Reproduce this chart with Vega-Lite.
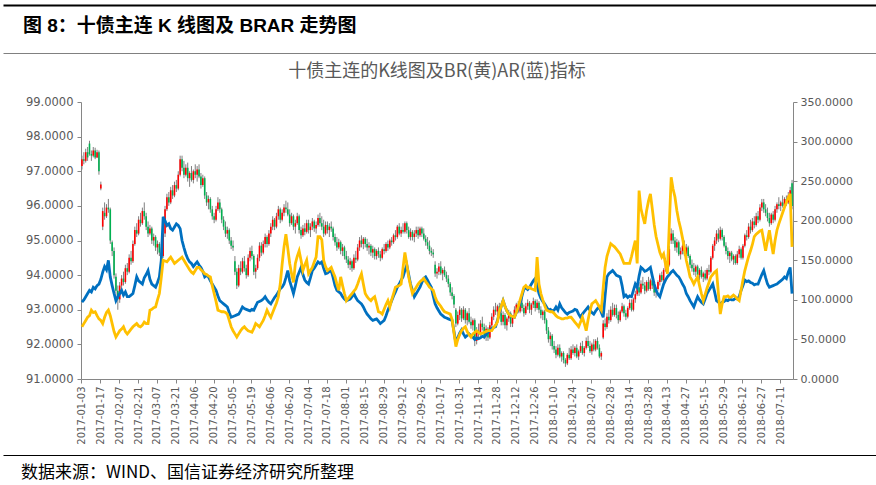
{
"$schema":"https://vega.github.io/schema/vega-lite/v6.json",
"padding":{"left":0,"top":2,"right":0,"bottom":0},
"background":"white",
"columns":1,
"align":"none",
"spacing":7,
"config":{"view":{"stroke":null},"font":"DejaVu Sans"},
"concat":[
{"width":798,"height":1,"data":{"values":[{"v":0}]},"mark":{"type":"point","opacity":0},
 "encoding":{"x":{"field":"v","type":"quantitative","scale":{"domain":[0,1],"range":[-78,798]},"axis":{"orient":"top","labels":false,"ticks":false,"grid":false,"title":null,"domainColor":"#000000","domainWidth":2}}}},
{"width":798,"height":1,"data":{"values":[{"v":0}]},"mark":{"type":"point","opacity":0},
 "encoding":{"x":{"field":"v","type":"quantitative","scale":{"domain":[0,1],"range":[-78,798]},"axis":{"orient":"bottom","labels":false,"ticks":false,"grid":false,"title":null,"domainColor":"#808080","domainWidth":1}}},
 "title":{"text":"图 8：十债主连 K 线图及 BRAR 走势图","anchor":"start","frame":"group","dx":-58,"fontSize":19,"fontWeight":"bold","color":"#000000","font":"Liberation Sans, Noto Sans CJK SC","offset":14}},
{"width":712,"height":277,
 "title":{"text":"十债主连的K线图及BR(黄)AR(蓝)指标","fontSize":18,"fontWeight":"normal","color":"#595959","font":"Noto Sans CJK SC","anchor":"middle","frame":"group","offset":15},
 "data":{"values":[
{"d":"2017-01-03","o":97.15,"h":97.45,"l":97.05,"c":97.35,"ar":97,"br":66},
{"d":"2017-01-04","o":97.35,"h":97.55,"l":97.2,"c":97.3,"ar":100,"br":70},
{"d":"2017-01-05","o":97.3,"h":97.65,"l":97.25,"c":97.55,"ar":104,"br":74},
{"d":"2017-01-06","o":97.55,"h":97.7,"l":97.3,"c":97.4,"ar":108,"br":78},
{"d":"2017-01-09","o":97.8,"h":97.88,"l":97.45,"c":97.5,"ar":112,"br":80},
{"d":"2017-01-10","o":97.5,"h":97.6,"l":97.3,"c":97.45,"ar":110,"br":87},
{"d":"2017-01-11","o":97.45,"h":97.7,"l":97.4,"c":97.6,"ar":116,"br":84},
{"d":"2017-01-12","o":97.6,"h":97.68,"l":97.35,"c":97.4,"ar":114,"br":85},
{"d":"2017-01-13","o":97.4,"h":97.62,"l":97.38,"c":97.55,"ar":118,"br":80},
{"d":"2017-01-16","o":97.55,"h":97.6,"l":96.9,"c":97.0,"ar":120,"br":76},
{"d":"2017-01-17","o":96.5,"h":96.7,"l":96.45,"c":96.62,"ar":126,"br":74},
{"d":"2017-01-18","o":95.4,"h":95.95,"l":95.3,"c":95.85,"ar":135,"br":70},
{"d":"2017-01-19","o":95.8,"h":96.1,"l":95.6,"c":95.7,"ar":142,"br":78},
{"d":"2017-01-20","o":95.7,"h":96.05,"l":95.65,"c":95.95,"ar":138,"br":84},
{"d":"2017-01-23","o":95.95,"h":96.2,"l":95.8,"c":95.9,"ar":150,"br":87},
{"d":"2017-01-24","o":95.9,"h":95.95,"l":94.9,"c":95.0,"ar":129,"br":80},
{"d":"2017-01-25","o":94.95,"h":95.0,"l":94.55,"c":94.7,"ar":118,"br":70},
{"d":"2017-01-26","o":94.7,"h":94.8,"l":93.9,"c":94.0,"ar":108,"br":60},
{"d":"2017-02-03","o":93.95,"h":94.05,"l":93.4,"c":93.55,"ar":99,"br":53},
{"d":"2017-02-06","o":93.55,"h":93.7,"l":93.0,"c":93.3,"ar":104,"br":57},
{"d":"2017-02-07","o":93.3,"h":93.8,"l":93.2,"c":93.7,"ar":108,"br":61},
{"d":"2017-02-08","o":93.7,"h":94.0,"l":93.55,"c":93.9,"ar":112,"br":63},
{"d":"2017-02-09","o":93.9,"h":94.1,"l":93.7,"c":93.8,"ar":106,"br":66},
{"d":"2017-02-10","o":93.8,"h":94.3,"l":93.75,"c":94.2,"ar":110,"br":60},
{"d":"2017-02-13","o":94.2,"h":94.35,"l":94.0,"c":94.1,"ar":104,"br":57},
{"d":"2017-02-14","o":94.1,"h":94.6,"l":94.05,"c":94.5,"ar":104,"br":60},
{"d":"2017-02-15","o":94.5,"h":94.7,"l":94.3,"c":94.4,"ar":106,"br":63},
{"d":"2017-02-16","o":94.4,"h":95.0,"l":94.35,"c":94.9,"ar":108,"br":66},
{"d":"2017-02-17","o":94.9,"h":95.4,"l":94.85,"c":95.3,"ar":118,"br":68},
{"d":"2017-02-20","o":95.3,"h":95.5,"l":95.1,"c":95.2,"ar":129,"br":70},
{"d":"2017-02-21","o":95.2,"h":95.7,"l":95.15,"c":95.6,"ar":124,"br":67},
{"d":"2017-02-22","o":95.6,"h":95.8,"l":95.4,"c":95.5,"ar":122,"br":66},
{"d":"2017-02-23","o":95.5,"h":95.95,"l":95.45,"c":95.85,"ar":120,"br":68},
{"d":"2017-02-24","o":95.85,"h":96.1,"l":95.6,"c":95.7,"ar":128,"br":72},
{"d":"2017-02-27","o":95.7,"h":95.8,"l":95.3,"c":95.4,"ar":132,"br":70},
{"d":"2017-02-28","o":95.4,"h":95.55,"l":95.1,"c":95.2,"ar":137,"br":70},
{"d":"2017-03-01","o":95.2,"h":95.45,"l":95.15,"c":95.35,"ar":126,"br":87},
{"d":"2017-03-02","o":95.35,"h":95.4,"l":94.9,"c":95.0,"ar":120,"br":88},
{"d":"2017-03-03","o":95.0,"h":95.2,"l":94.85,"c":95.1,"ar":118,"br":90},
{"d":"2017-03-06","o":95.1,"h":95.15,"l":94.7,"c":94.8,"ar":116,"br":91},
{"d":"2017-03-07","o":94.8,"h":95.0,"l":94.6,"c":94.9,"ar":122,"br":100},
{"d":"2017-03-08","o":94.9,"h":94.95,"l":94.55,"c":94.65,"ar":129,"br":108},
{"d":"2017-03-09","o":94.65,"h":94.8,"l":94.45,"c":94.55,"ar":150,"br":128},
{"d":"2017-03-10","o":94.55,"h":95.3,"l":94.5,"c":95.2,"ar":205,"br":150},
{"d":"2017-03-13","o":95.2,"h":96.0,"l":95.1,"c":95.9,"ar":200,"br":149},
{"d":"2017-03-14","o":95.9,"h":96.35,"l":95.85,"c":96.25,"ar":194,"br":148},
{"d":"2017-03-15","o":96.25,"h":96.4,"l":96.0,"c":96.1,"ar":196,"br":151},
{"d":"2017-03-16","o":96.1,"h":96.55,"l":96.05,"c":96.45,"ar":190,"br":154},
{"d":"2017-03-17","o":96.45,"h":96.6,"l":96.2,"c":96.3,"ar":188,"br":150},
{"d":"2017-03-20","o":96.3,"h":96.7,"l":96.25,"c":96.6,"ar":192,"br":146},
{"d":"2017-03-21","o":96.6,"h":96.75,"l":96.4,"c":96.5,"ar":196,"br":148},
{"d":"2017-03-22","o":96.5,"h":97.0,"l":96.45,"c":96.9,"ar":194,"br":150},
{"d":"2017-03-23","o":96.9,"h":97.45,"l":96.85,"c":97.35,"ar":190,"br":152},
{"d":"2017-03-24","o":97.35,"h":97.45,"l":97.0,"c":97.1,"ar":175,"br":154},
{"d":"2017-03-27","o":97.1,"h":97.3,"l":96.8,"c":96.9,"ar":166,"br":150},
{"d":"2017-03-28","o":96.9,"h":97.2,"l":96.85,"c":97.1,"ar":158,"br":146},
{"d":"2017-03-29","o":97.1,"h":97.25,"l":96.7,"c":96.8,"ar":152,"br":142},
{"d":"2017-03-30","o":96.8,"h":97.0,"l":96.55,"c":96.95,"ar":148,"br":138},
{"d":"2017-03-31","o":96.95,"h":97.15,"l":96.7,"c":96.75,"ar":146,"br":135},
{"d":"2017-04-05","o":96.75,"h":97.05,"l":96.65,"c":97.0,"ar":142,"br":133},
{"d":"2017-04-06","o":97.0,"h":97.2,"l":96.8,"c":96.9,"ar":145,"br":137},
{"d":"2017-04-07","o":96.9,"h":97.15,"l":96.7,"c":97.05,"ar":148,"br":141},
{"d":"2017-04-10","o":97.05,"h":97.2,"l":96.8,"c":96.85,"ar":144,"br":141},
{"d":"2017-04-11","o":96.85,"h":96.95,"l":96.5,"c":96.6,"ar":141,"br":138},
{"d":"2017-04-12","o":96.6,"h":96.9,"l":96.55,"c":96.8,"ar":136,"br":136},
{"d":"2017-04-13","o":96.8,"h":96.85,"l":96.2,"c":96.3,"ar":129,"br":133},
{"d":"2017-04-14","o":96.3,"h":96.4,"l":96.0,"c":96.1,"ar":131,"br":132},
{"d":"2017-04-17","o":96.1,"h":96.3,"l":95.9,"c":96.2,"ar":129,"br":130},
{"d":"2017-04-18","o":96.2,"h":96.25,"l":95.8,"c":95.9,"ar":124,"br":129},
{"d":"2017-04-19","o":95.9,"h":96.0,"l":95.6,"c":95.7,"ar":120,"br":118},
{"d":"2017-04-20","o":95.7,"h":95.8,"l":95.5,"c":95.6,"ar":116,"br":108},
{"d":"2017-04-21","o":95.6,"h":96.0,"l":95.55,"c":95.9,"ar":112,"br":98},
{"d":"2017-04-24","o":95.9,"h":96.25,"l":95.85,"c":96.1,"ar":105,"br":87},
{"d":"2017-04-25","o":96.1,"h":96.2,"l":95.8,"c":95.9,"ar":99,"br":86},
{"d":"2017-04-26","o":95.9,"h":95.95,"l":95.5,"c":95.6,"ar":97,"br":85},
{"d":"2017-04-27","o":95.6,"h":95.7,"l":95.3,"c":95.4,"ar":95,"br":85},
{"d":"2017-04-28","o":95.4,"h":95.55,"l":95.1,"c":95.2,"ar":93,"br":84},
{"d":"2017-05-02","o":95.2,"h":95.4,"l":95.05,"c":95.3,"ar":91,"br":82},
{"d":"2017-05-03","o":95.3,"h":95.35,"l":94.9,"c":95.0,"ar":84,"br":74},
{"d":"2017-05-04","o":95.0,"h":95.1,"l":94.75,"c":94.85,"ar":78,"br":66},
{"d":"2017-05-05","o":94.85,"h":95.0,"l":94.7,"c":94.8,"ar":79,"br":61},
{"d":"2017-05-08","o":94.4,"h":94.55,"l":94.0,"c":94.1,"ar":80,"br":57},
{"d":"2017-05-09","o":94.1,"h":94.2,"l":93.6,"c":93.7,"ar":81,"br":53},
{"d":"2017-05-10","o":93.7,"h":94.3,"l":93.65,"c":94.2,"ar":82,"br":57},
{"d":"2017-05-11","o":94.2,"h":94.4,"l":94.0,"c":94.1,"ar":86,"br":61},
{"d":"2017-05-12","o":94.1,"h":94.5,"l":94.05,"c":94.4,"ar":91,"br":64},
{"d":"2017-05-15","o":94.4,"h":94.55,"l":94.1,"c":94.2,"ar":89,"br":66},
{"d":"2017-05-16","o":94.2,"h":94.3,"l":93.9,"c":94.0,"ar":88,"br":63},
{"d":"2017-05-17","o":94.0,"h":94.6,"l":93.95,"c":94.5,"ar":87,"br":61},
{"d":"2017-05-18","o":94.5,"h":94.8,"l":94.4,"c":94.7,"ar":86,"br":60},
{"d":"2017-05-19","o":94.7,"h":94.85,"l":94.45,"c":94.55,"ar":88,"br":59},
{"d":"2017-05-22","o":94.55,"h":94.6,"l":94.0,"c":94.1,"ar":87,"br":64},
{"d":"2017-05-23","o":94.1,"h":94.3,"l":93.9,"c":94.2,"ar":92,"br":70},
{"d":"2017-05-24","o":94.2,"h":94.6,"l":94.15,"c":94.5,"ar":97,"br":68},
{"d":"2017-05-25","o":94.5,"h":94.95,"l":94.4,"c":94.85,"ar":98,"br":66},
{"d":"2017-05-26","o":94.85,"h":94.95,"l":94.55,"c":94.65,"ar":99,"br":70},
{"d":"2017-05-31","o":94.65,"h":95.0,"l":94.6,"c":94.9,"ar":101,"br":74},
{"d":"2017-06-01","o":94.9,"h":95.2,"l":94.8,"c":95.1,"ar":104,"br":80},
{"d":"2017-06-02","o":95.1,"h":95.15,"l":94.8,"c":94.9,"ar":100,"br":87},
{"d":"2017-06-05","o":94.9,"h":95.3,"l":94.85,"c":95.2,"ar":97,"br":82},
{"d":"2017-06-06","o":95.2,"h":95.5,"l":95.1,"c":95.4,"ar":95,"br":78},
{"d":"2017-06-07","o":95.4,"h":95.7,"l":95.3,"c":95.6,"ar":99,"br":84},
{"d":"2017-06-08","o":95.6,"h":95.65,"l":95.3,"c":95.4,"ar":103,"br":90},
{"d":"2017-06-09","o":95.4,"h":95.8,"l":95.35,"c":95.7,"ar":106,"br":96},
{"d":"2017-06-12","o":95.7,"h":96.0,"l":95.6,"c":95.9,"ar":110,"br":104},
{"d":"2017-06-13","o":95.9,"h":95.95,"l":95.5,"c":95.6,"ar":114,"br":120},
{"d":"2017-06-14","o":95.6,"h":95.9,"l":95.55,"c":95.8,"ar":116,"br":145},
{"d":"2017-06-15","o":95.8,"h":96.05,"l":95.7,"c":95.95,"ar":120,"br":167},
{"d":"2017-06-16","o":95.95,"h":96.15,"l":95.8,"c":95.9,"ar":128,"br":183},
{"d":"2017-06-19","o":95.9,"h":96.1,"l":95.7,"c":95.75,"ar":137,"br":165},
{"d":"2017-06-20","o":95.75,"h":95.9,"l":95.4,"c":95.5,"ar":124,"br":146},
{"d":"2017-06-21","o":95.5,"h":95.8,"l":95.45,"c":95.7,"ar":116,"br":133},
{"d":"2017-06-22","o":95.7,"h":95.75,"l":95.3,"c":95.4,"ar":108,"br":122},
{"d":"2017-06-23","o":95.4,"h":95.6,"l":95.2,"c":95.5,"ar":118,"br":146},
{"d":"2017-06-26","o":95.5,"h":95.8,"l":95.45,"c":95.7,"ar":129,"br":155},
{"d":"2017-06-27","o":95.7,"h":95.75,"l":95.2,"c":95.3,"ar":135,"br":162},
{"d":"2017-06-28","o":95.3,"h":95.4,"l":95.05,"c":95.15,"ar":141,"br":150},
{"d":"2017-06-29","o":95.15,"h":95.45,"l":95.1,"c":95.35,"ar":132,"br":137},
{"d":"2017-06-30","o":95.35,"h":95.5,"l":95.15,"c":95.25,"ar":125,"br":144},
{"d":"2017-07-03","o":95.25,"h":95.6,"l":95.2,"c":95.5,"ar":122,"br":150},
{"d":"2017-07-04","o":95.5,"h":95.6,"l":95.2,"c":95.3,"ar":120,"br":133},
{"d":"2017-07-05","o":95.3,"h":95.5,"l":95.1,"c":95.4,"ar":128,"br":137},
{"d":"2017-07-06","o":95.4,"h":95.65,"l":95.3,"c":95.55,"ar":137,"br":141},
{"d":"2017-07-07","o":95.55,"h":95.6,"l":95.25,"c":95.35,"ar":140,"br":148},
{"d":"2017-07-10","o":95.35,"h":95.55,"l":95.2,"c":95.45,"ar":144,"br":154},
{"d":"2017-07-11","o":95.45,"h":95.75,"l":95.4,"c":95.65,"ar":148,"br":180},
{"d":"2017-07-12","o":95.65,"h":95.8,"l":95.4,"c":95.5,"ar":146,"br":180},
{"d":"2017-07-13","o":95.5,"h":95.7,"l":95.3,"c":95.4,"ar":148,"br":176},
{"d":"2017-07-14","o":95.4,"h":95.6,"l":95.1,"c":95.2,"ar":140,"br":150},
{"d":"2017-07-17","o":95.2,"h":95.55,"l":95.15,"c":95.45,"ar":133,"br":142},
{"d":"2017-07-18","o":95.45,"h":95.55,"l":95.2,"c":95.3,"ar":134,"br":137},
{"d":"2017-07-19","o":95.3,"h":95.5,"l":95.1,"c":95.4,"ar":136,"br":139},
{"d":"2017-07-20","o":95.4,"h":95.55,"l":95.25,"c":95.35,"ar":137,"br":141},
{"d":"2017-07-21","o":95.35,"h":95.4,"l":95.0,"c":95.1,"ar":128,"br":135},
{"d":"2017-07-24","o":95.1,"h":95.2,"l":94.85,"c":94.95,"ar":118,"br":129},
{"d":"2017-07-25","o":94.95,"h":95.1,"l":94.7,"c":94.8,"ar":112,"br":120},
{"d":"2017-07-26","o":94.8,"h":95.05,"l":94.75,"c":94.95,"ar":110,"br":112},
{"d":"2017-07-27","o":94.95,"h":95.0,"l":94.6,"c":94.7,"ar":108,"br":129},
{"d":"2017-07-28","o":94.7,"h":94.9,"l":94.55,"c":94.8,"ar":104,"br":118},
{"d":"2017-07-31","o":94.8,"h":94.85,"l":94.45,"c":94.55,"ar":101,"br":108},
{"d":"2017-08-01","o":94.55,"h":94.7,"l":94.35,"c":94.45,"ar":99,"br":99},
{"d":"2017-08-02","o":94.45,"h":94.55,"l":94.2,"c":94.3,"ar":100,"br":102},
{"d":"2017-08-03","o":94.3,"h":94.5,"l":94.15,"c":94.4,"ar":101,"br":105},
{"d":"2017-08-04","o":94.4,"h":94.45,"l":94.1,"c":94.2,"ar":104,"br":108},
{"d":"2017-08-07","o":94.2,"h":94.6,"l":94.15,"c":94.5,"ar":108,"br":111},
{"d":"2017-08-08","o":94.5,"h":94.7,"l":94.35,"c":94.45,"ar":103,"br":114},
{"d":"2017-08-09","o":94.45,"h":94.9,"l":94.4,"c":94.8,"ar":99,"br":120},
{"d":"2017-08-10","o":94.8,"h":95.1,"l":94.7,"c":95.0,"ar":97,"br":127},
{"d":"2017-08-11","o":95.0,"h":95.15,"l":94.8,"c":94.9,"ar":95,"br":133},
{"d":"2017-08-14","o":94.9,"h":95.1,"l":94.75,"c":95.05,"ar":91,"br":120},
{"d":"2017-08-15","o":95.05,"h":95.1,"l":94.8,"c":94.9,"ar":86,"br":108},
{"d":"2017-08-16","o":94.9,"h":95.05,"l":94.7,"c":94.8,"ar":82,"br":104},
{"d":"2017-08-17","o":94.8,"h":94.95,"l":94.6,"c":94.85,"ar":79,"br":101},
{"d":"2017-08-18","o":94.85,"h":94.9,"l":94.55,"c":94.65,"ar":76,"br":99},
{"d":"2017-08-21","o":94.65,"h":94.85,"l":94.5,"c":94.75,"ar":74,"br":102},
{"d":"2017-08-22","o":94.75,"h":94.8,"l":94.45,"c":94.55,"ar":75,"br":104},
{"d":"2017-08-23","o":94.55,"h":94.75,"l":94.45,"c":94.7,"ar":76,"br":95},
{"d":"2017-08-24","o":94.7,"h":94.8,"l":94.5,"c":94.6,"ar":73,"br":85},
{"d":"2017-08-25","o":94.6,"h":94.7,"l":94.4,"c":94.5,"ar":70,"br":84},
{"d":"2017-08-28","o":94.5,"h":94.8,"l":94.45,"c":94.75,"ar":72,"br":82},
{"d":"2017-08-29","o":94.75,"h":94.9,"l":94.6,"c":94.7,"ar":74,"br":88},
{"d":"2017-08-30","o":94.7,"h":94.95,"l":94.65,"c":94.9,"ar":80,"br":94},
{"d":"2017-08-31","o":94.9,"h":95.0,"l":94.7,"c":94.8,"ar":87,"br":99},
{"d":"2017-09-01","o":94.8,"h":95.05,"l":94.75,"c":95.0,"ar":93,"br":91},
{"d":"2017-09-04","o":95.0,"h":95.1,"l":94.85,"c":94.95,"ar":99,"br":100},
{"d":"2017-09-05","o":94.95,"h":95.2,"l":94.9,"c":95.15,"ar":105,"br":108},
{"d":"2017-09-06","o":95.15,"h":95.3,"l":95.0,"c":95.1,"ar":110,"br":116},
{"d":"2017-09-07","o":95.1,"h":95.45,"l":95.05,"c":95.4,"ar":116,"br":117},
{"d":"2017-09-08","o":95.4,"h":95.5,"l":95.15,"c":95.2,"ar":120,"br":118},
{"d":"2017-09-11","o":95.2,"h":95.4,"l":95.1,"c":95.3,"ar":125,"br":120},
{"d":"2017-09-12","o":95.3,"h":95.5,"l":95.2,"c":95.25,"ar":129,"br":140},
{"d":"2017-09-13","o":95.25,"h":95.55,"l":95.2,"c":95.5,"ar":137,"br":160},
{"d":"2017-09-14","o":95.5,"h":95.55,"l":95.2,"c":95.3,"ar":144,"br":145},
{"d":"2017-09-15","o":95.3,"h":95.4,"l":95.05,"c":95.1,"ar":132,"br":129},
{"d":"2017-09-18","o":95.1,"h":95.35,"l":95.0,"c":95.25,"ar":120,"br":118},
{"d":"2017-09-19","o":95.25,"h":95.3,"l":95.0,"c":95.1,"ar":112,"br":108},
{"d":"2017-09-20","o":95.1,"h":95.3,"l":94.95,"c":95.2,"ar":104,"br":112},
{"d":"2017-09-21","o":95.2,"h":95.4,"l":95.1,"c":95.3,"ar":108,"br":116},
{"d":"2017-09-22","o":95.3,"h":95.4,"l":95.05,"c":95.15,"ar":112,"br":120},
{"d":"2017-09-25","o":95.15,"h":95.4,"l":95.1,"c":95.35,"ar":116,"br":123},
{"d":"2017-09-26","o":95.35,"h":95.4,"l":95.1,"c":95.2,"ar":122,"br":125},
{"d":"2017-09-27","o":95.2,"h":95.35,"l":95.0,"c":95.05,"ar":127,"br":127},
{"d":"2017-09-28","o":95.05,"h":95.15,"l":94.85,"c":94.95,"ar":129,"br":123},
{"d":"2017-09-29","o":94.95,"h":95.1,"l":94.75,"c":94.85,"ar":125,"br":120},
{"d":"2017-10-09","o":94.85,"h":95.0,"l":94.6,"c":94.7,"ar":120,"br":116},
{"d":"2017-10-10","o":94.7,"h":94.8,"l":94.55,"c":94.65,"ar":116,"br":114},
{"d":"2017-10-11","o":94.65,"h":94.75,"l":94.5,"c":94.6,"ar":105,"br":112},
{"d":"2017-10-12","o":94.3,"h":94.4,"l":93.95,"c":94.05,"ar":95,"br":104},
{"d":"2017-10-13","o":94.05,"h":94.2,"l":93.9,"c":94.1,"ar":90,"br":98},
{"d":"2017-10-16","o":94.1,"h":94.35,"l":94.0,"c":94.25,"ar":86,"br":95},
{"d":"2017-10-17","o":94.25,"h":94.4,"l":94.0,"c":94.05,"ar":82,"br":92},
{"d":"2017-10-18","o":94.05,"h":94.2,"l":93.85,"c":94.15,"ar":80,"br":88},
{"d":"2017-10-19","o":94.15,"h":94.25,"l":93.95,"c":94.0,"ar":78,"br":85},
{"d":"2017-10-20","o":94.0,"h":94.1,"l":93.8,"c":93.9,"ar":77,"br":84},
{"d":"2017-10-23","o":93.9,"h":94.0,"l":93.65,"c":93.75,"ar":76,"br":83},
{"d":"2017-10-24","o":93.75,"h":93.8,"l":93.4,"c":93.5,"ar":75,"br":82},
{"d":"2017-10-25","o":93.5,"h":93.65,"l":93.3,"c":93.4,"ar":74,"br":75},
{"d":"2017-10-26","o":93.4,"h":93.45,"l":93.05,"c":93.15,"ar":60,"br":58},
{"d":"2017-10-27","o":93.0,"h":93.05,"l":92.5,"c":92.6,"ar":45,"br":41},
{"d":"2017-10-30","o":92.6,"h":92.95,"l":92.55,"c":92.85,"ar":52,"br":50},
{"d":"2017-10-31","o":92.85,"h":93.1,"l":92.7,"c":93.0,"ar":58,"br":56},
{"d":"2017-11-01","o":93.0,"h":93.05,"l":92.65,"c":92.75,"ar":62,"br":61},
{"d":"2017-11-02","o":92.75,"h":93.1,"l":92.7,"c":93.0,"ar":57,"br":64},
{"d":"2017-11-03","o":93.0,"h":93.05,"l":92.6,"c":92.7,"ar":53,"br":66},
{"d":"2017-11-06","o":92.7,"h":92.95,"l":92.55,"c":92.9,"ar":55,"br":60},
{"d":"2017-11-07","o":92.9,"h":93.05,"l":92.6,"c":92.65,"ar":57,"br":56},
{"d":"2017-11-08","o":92.65,"h":92.8,"l":92.45,"c":92.55,"ar":55,"br":53},
{"d":"2017-11-09","o":92.55,"h":92.75,"l":92.4,"c":92.7,"ar":53,"br":57},
{"d":"2017-11-10","o":92.7,"h":92.75,"l":91.95,"c":92.1,"ar":50,"br":59},
{"d":"2017-11-13","o":92.1,"h":92.5,"l":92.0,"c":92.4,"ar":52,"br":61},
{"d":"2017-11-14","o":92.4,"h":92.6,"l":92.2,"c":92.3,"ar":51,"br":59},
{"d":"2017-11-15","o":92.3,"h":92.7,"l":92.25,"c":92.6,"ar":52,"br":57},
{"d":"2017-11-16","o":92.6,"h":92.8,"l":92.4,"c":92.5,"ar":54,"br":58},
{"d":"2017-11-17","o":92.5,"h":92.6,"l":92.15,"c":92.25,"ar":53,"br":59},
{"d":"2017-11-20","o":92.25,"h":92.55,"l":92.1,"c":92.45,"ar":56,"br":60},
{"d":"2017-11-21","o":92.45,"h":92.5,"l":92.1,"c":92.2,"ar":59,"br":61},
{"d":"2017-11-22","o":92.2,"h":92.65,"l":92.15,"c":92.55,"ar":62,"br":61},
{"d":"2017-11-23","o":92.55,"h":92.9,"l":92.5,"c":92.8,"ar":64,"br":61},
{"d":"2017-11-24","o":92.8,"h":93.1,"l":92.7,"c":93.0,"ar":65,"br":65},
{"d":"2017-11-27","o":93.0,"h":93.2,"l":92.85,"c":92.95,"ar":66,"br":68},
{"d":"2017-11-28","o":92.95,"h":93.15,"l":92.8,"c":93.1,"ar":74,"br":72},
{"d":"2017-11-29","o":93.1,"h":93.2,"l":92.8,"c":92.9,"ar":82,"br":85},
{"d":"2017-11-30","o":92.9,"h":93.0,"l":92.55,"c":92.65,"ar":92,"br":92},
{"d":"2017-12-01","o":92.65,"h":92.95,"l":92.55,"c":92.85,"ar":99,"br":99},
{"d":"2017-12-04","o":92.85,"h":92.9,"l":92.45,"c":92.55,"ar":92,"br":92},
{"d":"2017-12-05","o":92.55,"h":92.8,"l":92.4,"c":92.75,"ar":86,"br":86},
{"d":"2017-12-06","o":92.75,"h":93.0,"l":92.65,"c":92.9,"ar":82,"br":82},
{"d":"2017-12-07","o":92.9,"h":92.95,"l":92.5,"c":92.6,"ar":80,"br":80},
{"d":"2017-12-08","o":92.6,"h":92.85,"l":92.5,"c":92.8,"ar":79,"br":79},
{"d":"2017-12-11","o":92.8,"h":93.1,"l":92.75,"c":93.0,"ar":78,"br":78},
{"d":"2017-12-12","o":93.0,"h":93.2,"l":92.85,"c":93.15,"ar":84,"br":84},
{"d":"2017-12-13","o":93.15,"h":93.25,"l":92.9,"c":92.95,"ar":90,"br":91},
{"d":"2017-12-14","o":92.95,"h":93.3,"l":92.9,"c":93.2,"ar":95,"br":100},
{"d":"2017-12-15","o":93.2,"h":93.35,"l":92.95,"c":93.05,"ar":105,"br":108},
{"d":"2017-12-18","o":93.05,"h":93.15,"l":92.8,"c":92.9,"ar":114,"br":116},
{"d":"2017-12-19","o":92.9,"h":93.2,"l":92.85,"c":93.1,"ar":115,"br":118},
{"d":"2017-12-20","o":93.1,"h":93.3,"l":93.0,"c":93.2,"ar":113,"br":115},
{"d":"2017-12-21","o":93.2,"h":93.25,"l":92.9,"c":93.0,"ar":116,"br":116},
{"d":"2017-12-22","o":93.0,"h":93.2,"l":92.85,"c":93.15,"ar":120,"br":114},
{"d":"2017-12-25","o":93.15,"h":93.35,"l":93.05,"c":93.25,"ar":124,"br":113},
{"d":"2017-12-26","o":93.25,"h":93.3,"l":92.95,"c":93.05,"ar":127,"br":112},
{"d":"2017-12-27","o":93.05,"h":93.3,"l":93.0,"c":93.2,"ar":118,"br":154},
{"d":"2017-12-28","o":93.2,"h":93.25,"l":92.9,"c":93.0,"ar":108,"br":120},
{"d":"2017-12-29","o":93.0,"h":93.1,"l":92.75,"c":92.85,"ar":102,"br":108},
{"d":"2018-01-02","o":92.85,"h":93.0,"l":92.7,"c":92.95,"ar":98,"br":100},
{"d":"2018-01-03","o":92.95,"h":93.0,"l":92.6,"c":92.7,"ar":95,"br":93},
{"d":"2018-01-04","o":92.7,"h":92.75,"l":92.3,"c":92.4,"ar":91,"br":87},
{"d":"2018-01-05","o":92.4,"h":92.5,"l":92.05,"c":92.15,"ar":87,"br":86},
{"d":"2018-01-08","o":92.15,"h":92.35,"l":91.95,"c":92.25,"ar":88,"br":85},
{"d":"2018-01-09","o":92.25,"h":92.3,"l":91.85,"c":91.95,"ar":86,"br":85},
{"d":"2018-01-10","o":91.95,"h":92.1,"l":91.75,"c":91.85,"ar":87,"br":83},
{"d":"2018-01-11","o":91.85,"h":91.95,"l":91.6,"c":91.7,"ar":91,"br":80},
{"d":"2018-01-12","o":91.7,"h":92.0,"l":91.65,"c":91.9,"ar":87,"br":78},
{"d":"2018-01-15","o":91.9,"h":92.0,"l":91.6,"c":91.65,"ar":95,"br":77},
{"d":"2018-01-16","o":91.65,"h":91.8,"l":91.5,"c":91.75,"ar":90,"br":76},
{"d":"2018-01-17","o":91.75,"h":91.8,"l":91.45,"c":91.55,"ar":87,"br":76},
{"d":"2018-01-18","o":91.55,"h":91.6,"l":91.35,"c":91.45,"ar":84,"br":77},
{"d":"2018-01-19","o":91.45,"h":91.75,"l":91.4,"c":91.7,"ar":82,"br":77},
{"d":"2018-01-22","o":91.7,"h":91.9,"l":91.55,"c":91.6,"ar":84,"br":78},
{"d":"2018-01-23","o":91.6,"h":91.95,"l":91.55,"c":91.85,"ar":85,"br":78},
{"d":"2018-01-24","o":91.85,"h":92.0,"l":91.7,"c":91.75,"ar":86,"br":75},
{"d":"2018-01-25","o":91.75,"h":91.95,"l":91.65,"c":91.9,"ar":88,"br":72},
{"d":"2018-01-26","o":91.9,"h":92.0,"l":91.6,"c":91.65,"ar":87,"br":69},
{"d":"2018-01-29","o":91.65,"h":91.85,"l":91.55,"c":91.8,"ar":82,"br":66},
{"d":"2018-01-30","o":91.8,"h":92.05,"l":91.75,"c":91.95,"ar":78,"br":72},
{"d":"2018-01-31","o":91.95,"h":92.1,"l":91.7,"c":91.75,"ar":82,"br":78},
{"d":"2018-02-01","o":91.75,"h":91.95,"l":91.65,"c":91.9,"ar":85,"br":70},
{"d":"2018-02-02","o":91.9,"h":92.2,"l":91.85,"c":92.1,"ar":88,"br":61},
{"d":"2018-02-05","o":92.1,"h":92.25,"l":91.9,"c":91.95,"ar":91,"br":75},
{"d":"2018-02-06","o":91.95,"h":92.1,"l":91.75,"c":91.8,"ar":87,"br":86},
{"d":"2018-02-07","o":91.8,"h":92.05,"l":91.7,"c":92.0,"ar":84,"br":95},
{"d":"2018-02-08","o":92.0,"h":92.15,"l":91.8,"c":91.85,"ar":82,"br":97},
{"d":"2018-02-09","o":91.85,"h":92.15,"l":91.8,"c":92.1,"ar":86,"br":99},
{"d":"2018-02-12","o":92.1,"h":92.2,"l":91.85,"c":91.9,"ar":89,"br":95},
{"d":"2018-02-13","o":91.9,"h":92.0,"l":91.6,"c":91.65,"ar":91,"br":91},
{"d":"2018-02-14","o":91.65,"h":91.8,"l":91.55,"c":91.75,"ar":84,"br":87},
{"d":"2018-02-22","o":92.2,"h":92.7,"l":92.15,"c":92.6,"ar":78,"br":115},
{"d":"2018-02-23","o":92.6,"h":92.75,"l":92.4,"c":92.5,"ar":105,"br":141},
{"d":"2018-02-26","o":92.5,"h":92.9,"l":92.45,"c":92.8,"ar":129,"br":155},
{"d":"2018-02-27","o":92.8,"h":93.0,"l":92.6,"c":92.7,"ar":133,"br":163},
{"d":"2018-02-28","o":92.7,"h":93.1,"l":92.65,"c":93.0,"ar":135,"br":171},
{"d":"2018-03-01","o":93.0,"h":93.2,"l":92.8,"c":92.85,"ar":137,"br":169},
{"d":"2018-03-02","o":92.85,"h":93.15,"l":92.8,"c":93.05,"ar":134,"br":167},
{"d":"2018-03-05","o":93.05,"h":93.15,"l":92.75,"c":92.85,"ar":131,"br":164},
{"d":"2018-03-06","o":92.85,"h":92.95,"l":92.6,"c":92.7,"ar":130,"br":161},
{"d":"2018-03-07","o":92.7,"h":93.0,"l":92.65,"c":92.95,"ar":129,"br":158},
{"d":"2018-03-08","o":92.95,"h":93.2,"l":92.9,"c":93.1,"ar":118,"br":152},
{"d":"2018-03-09","o":93.1,"h":93.15,"l":92.8,"c":92.9,"ar":104,"br":146},
{"d":"2018-03-12","o":92.9,"h":93.0,"l":92.7,"c":92.8,"ar":106,"br":146},
{"d":"2018-03-13","o":92.8,"h":93.1,"l":92.75,"c":93.05,"ar":103,"br":146},
{"d":"2018-03-14","o":93.05,"h":93.3,"l":93.0,"c":93.2,"ar":105,"br":146},
{"d":"2018-03-15","o":93.2,"h":93.3,"l":92.95,"c":93.0,"ar":104,"br":155},
{"d":"2018-03-16","o":93.0,"h":93.35,"l":92.95,"c":93.3,"ar":112,"br":165},
{"d":"2018-03-19","o":93.3,"h":93.55,"l":93.2,"c":93.45,"ar":120,"br":175},
{"d":"2018-03-20","o":93.45,"h":93.75,"l":93.4,"c":93.65,"ar":116,"br":146},
{"d":"2018-03-21","o":93.65,"h":93.8,"l":93.4,"c":93.5,"ar":130,"br":238},
{"d":"2018-03-22","o":93.5,"h":93.85,"l":93.45,"c":93.75,"ar":141,"br":215},
{"d":"2018-03-23","o":93.75,"h":93.95,"l":93.6,"c":93.7,"ar":139,"br":205},
{"d":"2018-03-26","o":93.7,"h":93.8,"l":93.45,"c":93.55,"ar":136,"br":196},
{"d":"2018-03-27","o":93.55,"h":93.85,"l":93.5,"c":93.8,"ar":137,"br":213},
{"d":"2018-03-28","o":93.8,"h":93.95,"l":93.55,"c":93.6,"ar":139,"br":225},
{"d":"2018-03-29","o":93.6,"h":93.9,"l":93.55,"c":93.85,"ar":141,"br":234},
{"d":"2018-03-30","o":93.85,"h":94.0,"l":93.6,"c":93.7,"ar":130,"br":215},
{"d":"2018-04-02","o":93.7,"h":93.8,"l":93.4,"c":93.5,"ar":120,"br":195},
{"d":"2018-04-03","o":93.5,"h":93.65,"l":93.35,"c":93.6,"ar":112,"br":180},
{"d":"2018-04-04","o":93.6,"h":93.85,"l":93.55,"c":93.8,"ar":107,"br":170},
{"d":"2018-04-09","o":93.8,"h":94.05,"l":93.7,"c":94.0,"ar":104,"br":160},
{"d":"2018-04-10","o":94.0,"h":94.1,"l":93.8,"c":93.85,"ar":112,"br":154},
{"d":"2018-04-11","o":93.85,"h":94.2,"l":93.8,"c":94.15,"ar":120,"br":158},
{"d":"2018-04-12","o":94.15,"h":94.5,"l":94.1,"c":94.4,"ar":125,"br":145},
{"d":"2018-04-13","o":94.4,"h":94.6,"l":94.25,"c":94.3,"ar":129,"br":133},
{"d":"2018-04-16","o":94.3,"h":94.85,"l":94.25,"c":94.75,"ar":132,"br":195},
{"d":"2018-04-17","o":95.0,"h":95.35,"l":94.9,"c":95.2,"ar":135,"br":255},
{"d":"2018-04-18","o":95.2,"h":95.3,"l":94.9,"c":95.0,"ar":137,"br":240},
{"d":"2018-04-19","o":95.0,"h":95.1,"l":94.7,"c":94.8,"ar":134,"br":230},
{"d":"2018-04-20","o":94.8,"h":95.05,"l":94.65,"c":94.95,"ar":131,"br":213},
{"d":"2018-04-23","o":94.95,"h":95.0,"l":94.55,"c":94.6,"ar":129,"br":200},
{"d":"2018-04-24","o":94.6,"h":94.8,"l":94.45,"c":94.7,"ar":125,"br":190},
{"d":"2018-04-25","o":94.7,"h":94.95,"l":94.6,"c":94.85,"ar":120,"br":178},
{"d":"2018-04-26","o":94.85,"h":95.0,"l":94.55,"c":94.6,"ar":116,"br":165},
{"d":"2018-04-27","o":94.6,"h":94.9,"l":94.5,"c":94.8,"ar":108,"br":150},
{"d":"2018-05-02","o":94.8,"h":94.85,"l":94.5,"c":94.55,"ar":104,"br":140},
{"d":"2018-05-03","o":94.55,"h":94.6,"l":94.2,"c":94.3,"ar":99,"br":129},
{"d":"2018-05-04","o":94.3,"h":94.45,"l":94.1,"c":94.2,"ar":95,"br":125},
{"d":"2018-05-07","o":94.2,"h":94.35,"l":94.0,"c":94.1,"ar":91,"br":120},
{"d":"2018-05-08","o":94.1,"h":94.3,"l":93.95,"c":94.25,"ar":98,"br":125},
{"d":"2018-05-09","o":94.25,"h":94.3,"l":93.9,"c":94.0,"ar":104,"br":129},
{"d":"2018-05-10","o":94.0,"h":94.2,"l":93.85,"c":94.15,"ar":100,"br":118},
{"d":"2018-05-11","o":94.15,"h":94.25,"l":93.9,"c":93.95,"ar":97,"br":108},
{"d":"2018-05-14","o":93.95,"h":94.1,"l":93.8,"c":94.05,"ar":95,"br":99},
{"d":"2018-05-15","o":94.05,"h":94.15,"l":93.85,"c":93.9,"ar":101,"br":107},
{"d":"2018-05-16","o":93.9,"h":94.2,"l":93.85,"c":94.15,"ar":108,"br":115},
{"d":"2018-05-17","o":94.15,"h":94.3,"l":94.0,"c":94.1,"ar":112,"br":122},
{"d":"2018-05-18","o":94.1,"h":94.55,"l":94.05,"c":94.5,"ar":116,"br":129},
{"d":"2018-05-21","o":94.5,"h":94.9,"l":94.45,"c":94.85,"ar":120,"br":132},
{"d":"2018-05-22","o":94.85,"h":95.1,"l":94.7,"c":95.0,"ar":110,"br":135},
{"d":"2018-05-23","o":95.0,"h":95.3,"l":94.9,"c":95.2,"ar":99,"br":137},
{"d":"2018-05-24","o":95.2,"h":95.35,"l":94.95,"c":95.05,"ar":97,"br":108},
{"d":"2018-05-25","o":95.05,"h":95.4,"l":95.0,"c":95.3,"ar":95,"br":82},
{"d":"2018-05-28","o":95.3,"h":95.35,"l":95.0,"c":95.1,"ar":97,"br":95},
{"d":"2018-05-29","o":95.1,"h":95.15,"l":94.8,"c":94.85,"ar":98,"br":104},
{"d":"2018-05-30","o":94.85,"h":94.95,"l":94.6,"c":94.7,"ar":100,"br":104},
{"d":"2018-05-31","o":94.7,"h":94.8,"l":94.45,"c":94.55,"ar":99,"br":105},
{"d":"2018-06-01","o":94.55,"h":94.7,"l":94.35,"c":94.65,"ar":101,"br":103},
{"d":"2018-06-04","o":94.65,"h":94.7,"l":94.4,"c":94.45,"ar":100,"br":104},
{"d":"2018-06-05","o":94.45,"h":94.6,"l":94.3,"c":94.55,"ar":100,"br":106},
{"d":"2018-06-06","o":94.55,"h":94.6,"l":94.3,"c":94.35,"ar":102,"br":104},
{"d":"2018-06-07","o":94.35,"h":94.7,"l":94.3,"c":94.6,"ar":101,"br":101},
{"d":"2018-06-08","o":94.6,"h":94.85,"l":94.5,"c":94.75,"ar":104,"br":99},
{"d":"2018-06-11","o":94.75,"h":94.8,"l":94.45,"c":94.5,"ar":112,"br":112},
{"d":"2018-06-12","o":94.5,"h":94.9,"l":94.45,"c":94.85,"ar":118,"br":125},
{"d":"2018-06-13","o":94.85,"h":95.2,"l":94.8,"c":95.15,"ar":125,"br":137},
{"d":"2018-06-14","o":95.15,"h":95.3,"l":95.0,"c":95.1,"ar":123,"br":146},
{"d":"2018-06-15","o":95.1,"h":95.5,"l":95.05,"c":95.4,"ar":124,"br":155},
{"d":"2018-06-19","o":95.4,"h":95.6,"l":95.2,"c":95.3,"ar":122,"br":162},
{"d":"2018-06-20","o":95.3,"h":95.65,"l":95.25,"c":95.55,"ar":121,"br":170},
{"d":"2018-06-21","o":95.55,"h":95.7,"l":95.35,"c":95.45,"ar":119,"br":180},
{"d":"2018-06-22","o":95.45,"h":95.8,"l":95.4,"c":95.7,"ar":120,"br":183},
{"d":"2018-06-25","o":95.7,"h":95.85,"l":95.5,"c":95.6,"ar":120,"br":185},
{"d":"2018-06-26","o":95.6,"h":96.05,"l":95.55,"c":95.95,"ar":126,"br":187},
{"d":"2018-06-27","o":95.95,"h":96.2,"l":95.85,"c":96.1,"ar":132,"br":188},
{"d":"2018-06-28","o":96.1,"h":96.2,"l":95.8,"c":95.9,"ar":137,"br":175},
{"d":"2018-06-29","o":95.9,"h":96.05,"l":95.7,"c":95.8,"ar":128,"br":162},
{"d":"2018-07-02","o":95.8,"h":95.95,"l":95.55,"c":95.65,"ar":120,"br":175},
{"d":"2018-07-03","o":95.65,"h":95.8,"l":95.4,"c":95.5,"ar":116,"br":188},
{"d":"2018-07-04","o":95.5,"h":95.8,"l":95.45,"c":95.75,"ar":117,"br":172},
{"d":"2018-07-05","o":95.75,"h":95.85,"l":95.5,"c":95.6,"ar":118,"br":158},
{"d":"2018-07-06","o":95.6,"h":96.0,"l":95.55,"c":95.9,"ar":119,"br":175},
{"d":"2018-07-09","o":95.9,"h":96.1,"l":95.8,"c":96.05,"ar":120,"br":188},
{"d":"2018-07-10","o":96.05,"h":96.25,"l":95.9,"c":96.0,"ar":122,"br":196},
{"d":"2018-07-11","o":96.0,"h":96.15,"l":95.85,"c":96.1,"ar":124,"br":203},
{"d":"2018-07-12","o":96.1,"h":96.3,"l":95.95,"c":96.0,"ar":126,"br":210},
{"d":"2018-07-13","o":96.0,"h":96.25,"l":95.9,"c":96.2,"ar":129,"br":217},
{"d":"2018-07-16","o":96.2,"h":96.3,"l":96.0,"c":96.1,"ar":127,"br":223},
{"d":"2018-07-17","o":96.1,"h":96.4,"l":96.05,"c":96.3,"ar":135,"br":229},
{"d":"2018-07-18","o":96.3,"h":96.55,"l":96.2,"c":96.45,"ar":141,"br":234},
{"d":"2018-07-19","o":96.65,"h":96.75,"l":95.9,"c":96.0,"ar":108,"br":167}
 ]},
 "encoding":{"x":{"field":"d","type":"ordinal","scale":{"paddingInner":0,"paddingOuter":0},
  "axis":{"values":["2017-01-03","2017-01-17","2017-02-07","2017-02-21","2017-03-07","2017-03-21","2017-04-06","2017-04-20","2017-05-05","2017-05-19","2017-06-06","2017-06-20","2017-07-04","2017-07-18","2017-08-01","2017-08-15","2017-08-29","2017-09-12","2017-09-26","2017-10-17","2017-10-31","2017-11-14","2017-11-28","2017-12-12","2017-12-26","2018-01-10","2018-01-24","2018-02-07","2018-02-28","2018-03-14","2018-03-28","2018-04-13","2018-04-27","2018-05-15","2018-05-29","2018-06-12","2018-06-27","2018-07-11"],
  "labelAngle":-90,"labelFontSize":10,"labelColor":"#595959","labelFont":"DejaVu Sans","tickSize":4,"tickColor":"#868686","domainColor":"#868686","title":null,"labelPadding":3,"grid":false}}},
 "layer":[
  {"layer":[
   {"mark":{"type":"rule","color":"#7f7f7f","strokeWidth":1},
    "encoding":{"y":{"field":"l","type":"quantitative","scale":{"domain":[91,99],"zero":false,"nice":false},
      "axis":{"orient":"left","values":[91,92,93,94,95,96,97,98,99],"format":".4f","labelFontSize":11.5,"labelColor":"#595959","labelFont":"DejaVu Sans","tickSize":4,"tickColor":"#868686","domainColor":"#868686","grid":false,"title":null,"labelPadding":4,"minExtent":78}},
     "y2":{"field":"h"}}},
   {"mark":{"type":"bar","width":{"band":0.85}},
    "encoding":{"y":{"field":"o","type":"quantitative","scale":{"domain":[91,99],"zero":false,"nice":false},
      "axis":{"orient":"left","values":[91,92,93,94,95,96,97,98,99],"format":".4f","labelFontSize":11.5,"labelColor":"#595959","labelFont":"DejaVu Sans","tickSize":4,"tickColor":"#868686","domainColor":"#868686","grid":false,"title":null,"labelPadding":4,"minExtent":78}},
     "y2":{"field":"c"},
     "color":{"condition":{"test":"datum.c >= datum.o","value":"#ff0000"},"value":"#00b050"}}}
  ]},
  {"layer":[
   {"mark":{"type":"line","color":"#0070c0","strokeWidth":2.8},
    "encoding":{"y":{"field":"ar","type":"quantitative","scale":{"domain":[0,350],"nice":false},
      "axis":{"orient":"right","values":[0,50,100,150,200,250,300,350],"format":".4f","labelFontSize":11,"labelColor":"#595959","labelFont":"DejaVu Sans","tickSize":4,"tickColor":"#868686","domainColor":"#868686","grid":false,"title":null,"labelPadding":3}}}},
   {"mark":{"type":"line","color":"#ffc000","strokeWidth":2.8},
    "encoding":{"y":{"field":"br","type":"quantitative","scale":{"domain":[0,350],"nice":false},
      "axis":{"orient":"right","values":[0,50,100,150,200,250,300,350],"format":".4f","labelFontSize":11,"labelColor":"#595959","labelFont":"DejaVu Sans","tickSize":4,"tickColor":"#868686","domainColor":"#868686","grid":false,"title":null,"labelPadding":3}}}}
  ]}
 ],
 "resolve":{"scale":{"y":"independent"}}
},
{"width":798,"height":1,"data":{"values":[{"v":0}]},"mark":{"type":"point","opacity":0},
 "encoding":{"x":{"field":"v","type":"quantitative","scale":{"domain":[0,1],"range":[-78,798]},"axis":{"orient":"top","labels":false,"ticks":false,"grid":false,"title":null,"domainColor":"#000000","domainWidth":1}}},
 "title":{"text":"数据来源：WIND、国信证券经济研究所整理","orient":"bottom","anchor":"start","frame":"group","dx":-60,"fontSize":17,"fontWeight":"normal","color":"#000000","font":"Noto Sans CJK SC","offset":7}}
]
}
